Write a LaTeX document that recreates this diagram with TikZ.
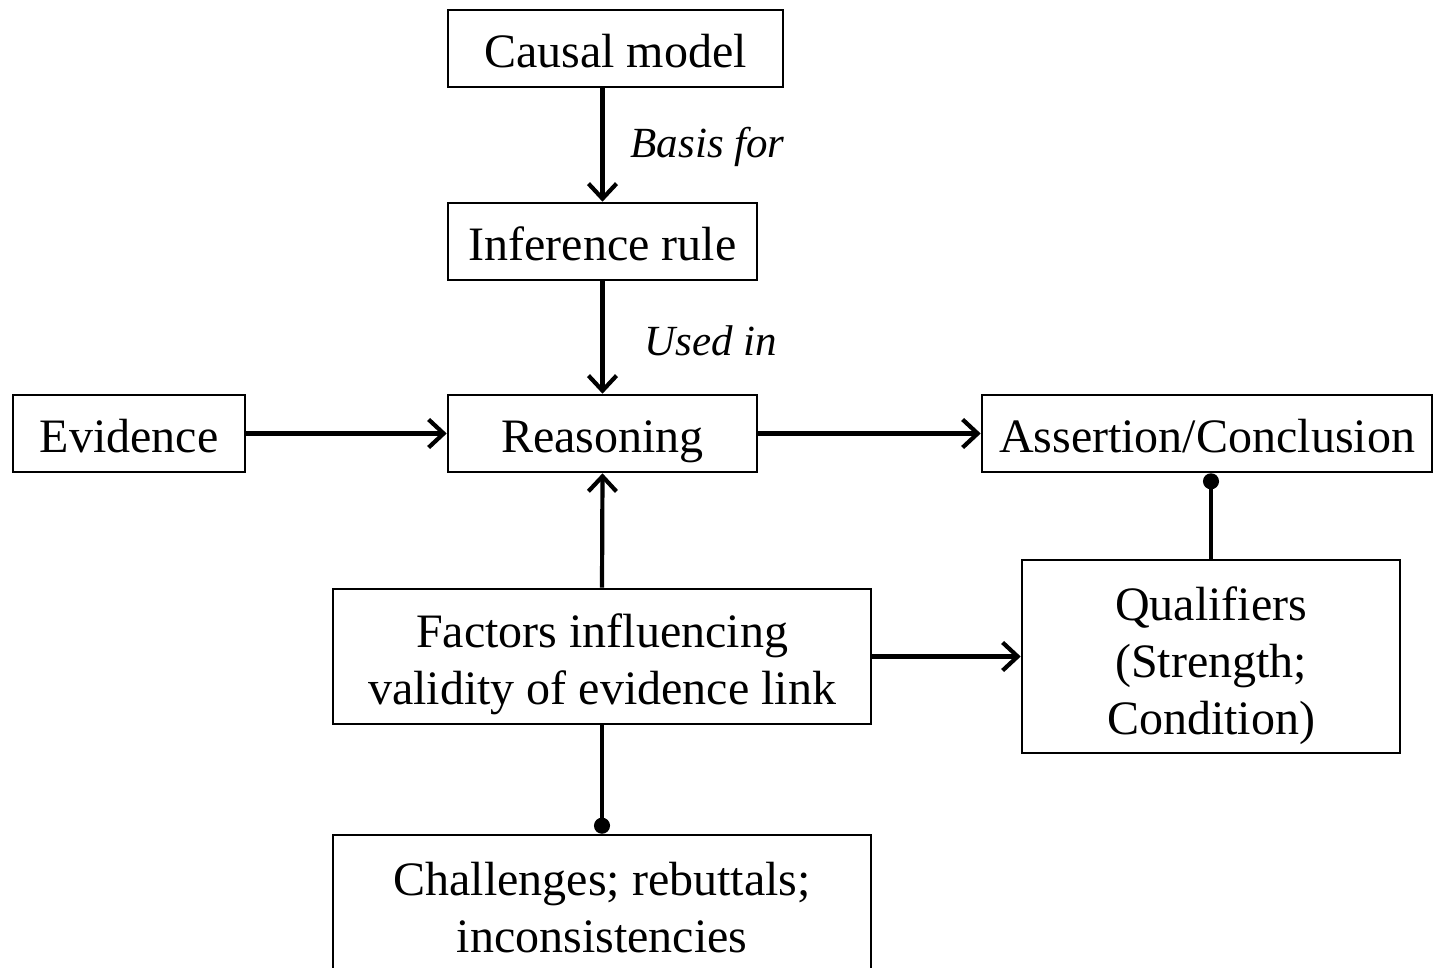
\documentclass[tikz,border=0pt]{standalone}
\usepackage{fontspec}
\setmainfont{Liberation Serif}
\usetikzlibrary{arrows.meta}
\begin{document}
\begin{tikzpicture}[x=1pt,y=-1pt,
  frame/.style={draw=black, line width=2.6pt, inner sep=0pt},
  txt/.style={align=center, inner sep=0pt, font=\fontsize{48}{57}\selectfont},
  box/.style={frame, txt, text height=42pt, text depth=5pt},
  link/.style={line width=4.2pt, -{Straight Barb[length=15pt,width=28pt,line width=4.2pt]}},
  dotlink/.style={line width=4.2pt, -{Circle[length=16pt]}},
  lbl/.style={font=\fontsize{43}{50}\selectfont\itshape, anchor=west, inner sep=0pt}]
  \useasboundingbox (0,0) rectangle (1433,967);
  % single-line boxes
  \node[box, minimum width=335pt, minimum height=77pt] (cm) at (615.5,48.5) {Causal model};
  \node[box, minimum width=309pt, minimum height=77pt] (ir) at (602.5,241.5) {Inference rule};
  \node[box, minimum width=232pt, minimum height=77pt] (ev) at (129,433.5) {Evidence};
  \node[box, minimum width=309pt, minimum height=77pt] (re) at (602.5,433.5) {Reasoning};
  \node[box, minimum width=450pt, minimum height=77pt] (ac) at (1207,433.5) {Assertion/Conclusion};
  % multi-line boxes, text set slightly below the centre
  \node[frame, minimum width=378pt, minimum height=193pt] (qu) at (1211,656.5) {};
  \node[txt] (qu-t) at ([yshift=-9pt]qu.center) {Qualifiers\\(Strength;\\Condition)};
  \node[frame, minimum width=538pt, minimum height=135pt] (fa) at (602,656.5) {};
  \node[txt] (fa-t) at ([yshift=-8pt]fa.center) {Factors influencing\\validity of evidence link};
  \node[frame, minimum width=538pt, minimum height=150pt] (ch) at (602,910) {};
  \node[txt] (ch-t) at ([yshift=2pt]ch.center) {Challenges; rebuttals;\\inconsistencies};
  % connectors
  \draw[link] (ir.north |- cm.south) -- (ir.north) node[midway, lbl, xshift=26pt, yshift=-2pt] (bf) {Basis for};
  \draw[link] (ir.south) -- (re.north) node[midway, lbl, xshift=40pt, yshift=-3pt] (ui) {Used in};
  \draw[link] (ev.east) -- (re.west);
  \draw[link] (re.east) -- (ac.west);
  \draw[link] (fa.north) -- (re.south);
  \draw[link] (fa.east) -- (qu.west);
  \draw[dotlink] (qu.north) -- (qu.north |- ac.south);
  \draw[dotlink] (fa.south) -- (ch.north);
\end{tikzpicture}
\end{document}
